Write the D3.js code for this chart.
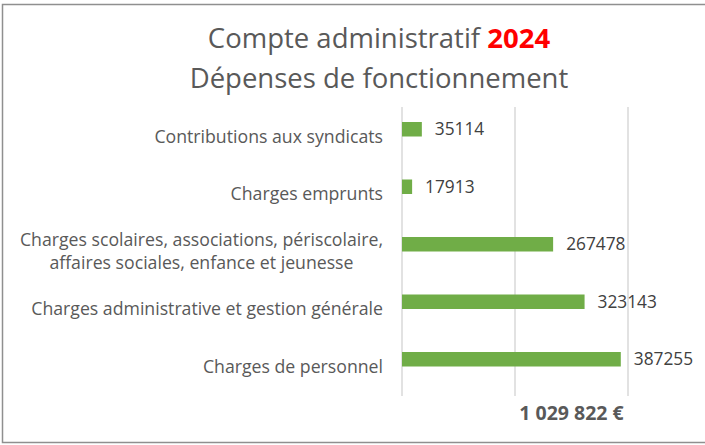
<!DOCTYPE html>
<html><head><meta charset="utf-8">
<script src="https://cdn.jsdelivr.net/npm/d3@7"></script>
<style>
html,body{margin:0;padding:0;background:#fff;}
svg{display:block;font-family:"Open Sans",sans-serif;}
</style></head>
<body>
<svg id="c" width="705" height="445"></svg>
<script>
const categories = [
  ["Contributions aux syndicats"],
  ["Charges emprunts"],
  ["Charges scolaires, associations, périscolaire,", "affaires sociales, enfance et jeunesse"],
  ["Charges administrative et gestion générale"],
  ["Charges de personnel"]
];
const values = [35114, 17913, 267478, 323143, 387255];
const gridTicks = [0, 200000, 400000];
const titleLine1 = "Compte administratif ";
const titleYear = "2024";
const titleLine2 = "Dépenses de fonctionnement";
const totalLabel = "1 029 822 €";

const svg = d3.select("#c");
const textColor = "#595959";

svg.append("rect").attr("x", 2.5).attr("y", 4.5).attr("width", 705).attr("height", 438)
  .attr("fill", "#fff").attr("stroke", "#8f8f8f").attr("stroke-width", 1.5);

const x = d3.scaleLinear().domain([0, 400000]).range([402, 628]);
const y = d3.scaleBand().domain(d3.range(categories.length)).range([107.75, 395.25]);

// grid
svg.append("g").selectAll("line").data(gridTicks).join("line")
  .attr("x1", d => x(d)).attr("x2", d => x(d))
  .attr("y1", 107).attr("y2", 396)
  .attr("stroke", "#d9d9d9").attr("stroke-width", 1.5);

const barH = 14.5;
svg.append("g").selectAll("rect").data(values).join("rect")
  .attr("x", x(0))
  .attr("y", (d, i) => y(i) + y.bandwidth() / 2 - barH)
  .attr("width", d => x(d) - x(0))
  .attr("height", barH)
  .attr("fill", "#70ad47");

svg.append("g").selectAll("text").data(values).join("text")
  .attr("x", d => x(d) + 13)
  .attr("y", (d, i) => y(i) + y.bandwidth() / 2 - barH / 2)
  .attr("dy", "0.35em")
  .attr("font-size", 17.3)
  .attr("fill", "#404040")
  .text(d => d);

// category labels: block right-aligned at 383, lines centered within block
const labelRight = 383;
const lab = svg.append("g").selectAll("text").data(categories).join("text")
  .attr("text-anchor", "middle")
  .attr("font-size", 17.7)
  .attr("fill", textColor);
lab.each(function(d, i) {
  const t = d3.select(this);
  const lh = 23;
  const spans = d.map((line, j) => t.append("tspan")
      .attr("y", y(i) + y.bandwidth() / 2 + (j - (d.length - 1) / 2) * lh)
      .attr("dy", "0.35em")
      .text(line));
  const maxW = d3.max(spans, s => s.node().getComputedTextLength());
  spans.forEach(s => s.attr("x", labelRight - maxW / 2));
});

// title
const t1 = svg.append("text").attr("x", 379).attr("y", 38).attr("dy", "0.35em")
  .attr("text-anchor", "middle").attr("font-size", 27.5).attr("fill", textColor);
t1.append("tspan").text(titleLine1);
t1.append("tspan").attr("fill", "#ff0000").attr("font-weight", "bold").text(titleYear);
svg.append("text").attr("x", 379).attr("y", 78).attr("dy", "0.35em")
  .attr("text-anchor", "middle").attr("font-size", 27.5).attr("fill", textColor).text(titleLine2);

// total
svg.append("text").attr("x", 571.5).attr("y", 413).attr("dy", "0.35em")
  .attr("text-anchor", "middle").attr("font-size", 19.5).attr("font-weight", "bold")
  .attr("fill", textColor).text(totalLabel);
</script>
</body></html>
